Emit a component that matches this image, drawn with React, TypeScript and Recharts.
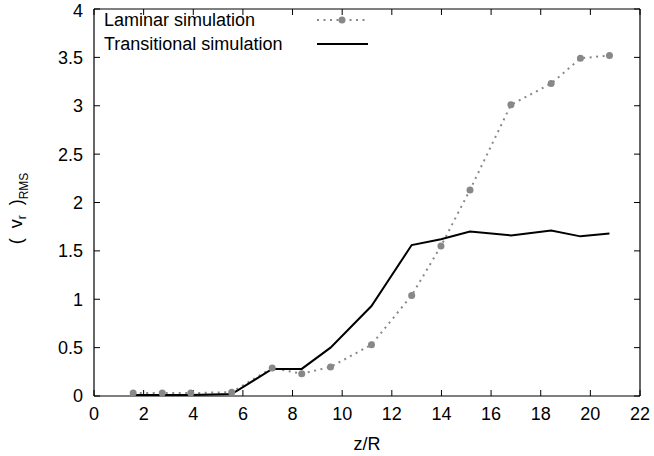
import { LineChart, Line, XAxis, YAxis, Legend } from "recharts";

const zOverR = [1.58, 2.75, 3.9, 5.55, 7.18, 8.37, 9.53, 11.18, 12.8, 13.98, 15.15, 16.8, 18.42, 19.6, 20.77];
const laminar = [0.03, 0.03, 0.03, 0.04, 0.29, 0.23, 0.3, 0.53, 1.04, 1.55, 2.13, 3.01, 3.23, 3.49, 3.52];
const transitional = [0.01, 0.01, 0.01, 0.02, 0.28, 0.28, 0.5, 0.93, 1.56, 1.62, 1.7, 1.66, 1.71, 1.65, 1.68];

const xTicks = [0, 2, 4, 6, 8, 10, 12, 14, 16, 18, 20, 22];
const yTicks = [0, 0.5, 1, 1.5, 2, 2.5, 3, 3.5, 4];

const data = zOverR.map((z, i) => ({
  z,
  laminar: laminar[i],
  transitional: transitional[i],
}));

const FONT = "'Liberation Sans', Arial, sans-serif";
const GREY = "#888888";
const tickFont = { fill: "#000", fontSize: 18, fontFamily: FONT };
const noLabel = () => <g />;

// legend sample styles, keyed by dataKey
const sampleStyle: Record<string, { dash?: string; width: number; dot: boolean }> = {
  laminar: { dash: "2 4.5", width: 2, dot: true },
  transitional: { width: 2, dot: false },
};

function KeyBox({ payload }: any) {
  const rows = payload || [];
  return (
    <svg width={290} height={60} style={{ display: "block" }}>
      {rows.map((e: any, i: number) => {
        const y = 11 + i * 24;
        const s = sampleStyle[e.dataKey] || { width: 2, dot: false };
        return (
          <g key={e.dataKey}>
            <text x={10} y={y} dy="0.35em" fontSize={18} fontFamily={FONT} fill="#000">
              {e.value}
            </text>
            <line x1={223} x2={274} y1={y} y2={y} stroke={e.color} strokeWidth={s.width} strokeDasharray={s.dash} />
            {s.dot && <circle cx={248} cy={y} r={3.5} fill={e.color} />}
          </g>
        );
      })}
    </svg>
  );
}

function YLabel({ viewBox }: any) {
  const cx = 22;
  const cy = viewBox.y + viewBox.height / 2 + 6;
  return (
    <text
      x={cx}
      y={cy}
      transform={`rotate(-90, ${cx}, ${cy})`}
      textAnchor="middle"
      fontFamily={FONT}
      fontSize={18}
      fill="#000"
      style={{ whiteSpace: "pre" }}
    >
      {"(  v"}<tspan dy={4} fontSize={12}>r</tspan><tspan dy={-4}>{"  )"}</tspan><tspan dy={6} fontSize={12}>RMS</tspan>
    </text>
  );
}

export default function App() {
  return (
    <div style={{ position: "absolute", left: 0, top: 0, background: "#fff" }}>
      <LineChart width={654} height={456} data={data} margin={{ top: 9, right: 14, bottom: 0, left: 0 }}>
        <XAxis
          xAxisId="main"
          dataKey="z"
          type="number"
          domain={[0, 22]}
          ticks={xTicks}
          allowDataOverflow
          height={60}
          tickSize={0}
          tickMargin={11}
          tickLine={false}
          axisLine={{ stroke: "#000", strokeWidth: 1.2 }}
          tick={tickFont}
          label={{ value: "z/R", position: "insideBottom", offset: 6, fill: "#000", fontSize: 18, fontFamily: FONT }}
        />
        <XAxis
          xAxisId="bottomTicks"
          dataKey="z"
          type="number"
          orientation="bottom"
          mirror
          domain={[0, 22]}
          ticks={xTicks}
          allowDataOverflow
          height={1}
          tickSize={6}
          tick={noLabel}
          axisLine={false}
          tickLine={{ stroke: "#000" }}
        />
        <XAxis
          xAxisId="top"
          dataKey="z"
          type="number"
          orientation="top"
          mirror
          domain={[0, 22]}
          ticks={xTicks}
          allowDataOverflow
          height={1}
          tickSize={6}
          tick={noLabel}
          axisLine={{ stroke: "#000", strokeWidth: 1.2 }}
          tickLine={{ stroke: "#000" }}
        />
        <YAxis
          yAxisId="main"
          type="number"
          domain={[0, 4]}
          ticks={yTicks}
          allowDataOverflow
          width={94}
          tickSize={0}
          tickMargin={11}
          tickLine={false}
          axisLine={{ stroke: "#000", strokeWidth: 1.2 }}
          tick={tickFont}
          label={<YLabel />}
        />
        <YAxis
          yAxisId="leftTicks"
          type="number"
          orientation="left"
          mirror
          domain={[0, 4]}
          ticks={yTicks}
          allowDataOverflow
          width={1}
          tickSize={6}
          tick={noLabel}
          axisLine={false}
          tickLine={{ stroke: "#000" }}
        />
        <YAxis
          yAxisId="right"
          type="number"
          orientation="right"
          mirror
          domain={[0, 4]}
          ticks={yTicks}
          allowDataOverflow
          width={1}
          tickSize={6}
          tick={noLabel}
          axisLine={{ stroke: "#000", strokeWidth: 1.2 }}
          tickLine={{ stroke: "#000" }}
        />
        <Legend
          layout="vertical"
          align="center"
          verticalAlign="middle"
          content={<KeyBox />}
          wrapperStyle={{ position: "absolute", left: 94, top: 9, width: 290, height: 60 }}
        />
        <Line
          xAxisId="main"
          yAxisId="main"
          dataKey="laminar"
          name="Laminar simulation"
          stroke={GREY}
          strokeWidth={2}
          strokeDasharray="2 4.5"
          dot={{ r: 3.5, fill: GREY, stroke: "none", strokeDasharray: "" }}
          activeDot={false}
          isAnimationActive={false}
        />
        <Line
          xAxisId="main"
          yAxisId="main"
          dataKey="transitional"
          name="Transitional simulation"
          stroke="#000"
          strokeWidth={2}
          dot={false}
          activeDot={false}
          isAnimationActive={false}
        />
      </LineChart>
    </div>
  );
}
